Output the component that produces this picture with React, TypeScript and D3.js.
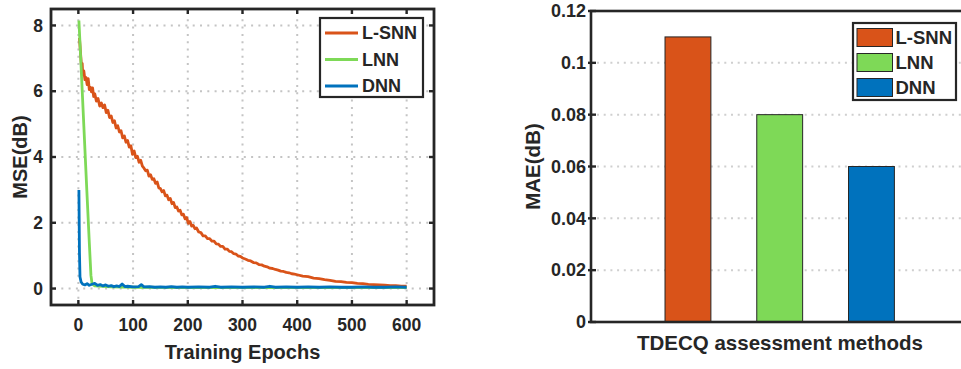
import React, { useRef, useEffect } from 'react';
import * as d3 from 'd3';

// left panel: training curves, [epoch, MSE(dB)]
const lsnnCurve: [number, number][] = [
  [2, 7.62], [4, 7.15], [6, 6.7], [7, 6.85], [8, 6.5], [10, 6.62], [12, 6.35], [14, 6.42], [16, 6.2], [18, 6.38], [20, 6.05],
  [22, 6.12], [24, 5.98], [26, 6.1], [28, 5.84], [30, 5.92], [33, 5.7], [36, 5.78], [39, 5.55], [42, 5.64], [45, 5.5],
  [48, 5.58], [51, 5.35], [54, 5.42], [57, 5.2], [60, 5.25], [63, 5.05], [66, 5.1], [69, 4.88], [72, 4.95], [75, 4.76],
  [78, 4.8], [81, 4.58], [84, 4.64], [87, 4.45], [90, 4.5], [93, 4.3], [96, 4.34], [99, 4.08], [102, 4.18], [105, 3.98],
  [108, 4.02], [111, 3.84], [114, 3.9], [117, 3.72], [120, 3.66], [123, 3.58], [126, 3.6], [129, 3.42], [132, 3.46], [135, 3.32],
  [138, 3.34], [141, 3.2], [144, 3.24], [147, 3.06], [150, 3.04], [153, 2.94], [156, 2.98], [159, 2.82], [162, 2.84], [165, 2.7],
  [168, 2.74], [171, 2.58], [174, 2.62], [177, 2.46], [180, 2.48], [183, 2.36], [186, 2.38], [189, 2.24], [192, 2.26], [195, 2.12],
  [198, 2.16], [201, 1.98], [204, 2.04], [207, 1.9], [210, 1.92], [213, 1.82], [216, 1.84], [220, 1.72], [224, 1.7], [228, 1.6],
  [232, 1.6], [236, 1.52], [240, 1.52], [244, 1.44], [248, 1.44], [252, 1.36], [256, 1.35], [260, 1.28], [264, 1.28], [268, 1.2],
  [272, 1.2], [276, 1.13], [280, 1.12], [284, 1.06], [288, 1.05], [292, 0.99], [296, 0.98], [300, 0.93], [305, 0.9], [310, 0.86],
  [315, 0.84], [320, 0.79], [325, 0.78], [330, 0.73], [335, 0.72], [340, 0.68], [345, 0.66], [350, 0.62], [355, 0.61], [360, 0.58],
  [365, 0.56], [370, 0.53], [375, 0.52], [380, 0.49], [385, 0.48], [390, 0.45], [395, 0.44], [400, 0.42], [410, 0.38], [420, 0.36],
  [430, 0.32], [440, 0.3], [450, 0.27], [460, 0.25], [470, 0.22], [480, 0.21], [490, 0.19], [500, 0.18], [510, 0.16], [520, 0.15],
  [530, 0.13], [540, 0.12], [550, 0.11], [560, 0.1], [570, 0.09], [580, 0.09], [590, 0.07], [600, 0.07]
];
const lnnCurve: [number, number][] = [
  [1, 8.15], [5, 6.75], [10, 4.95], [15, 3.15], [20, 1.4], [23, 0.4], [25, 0.15], [30, 0.08], [60, 0.05],
  [100, 0.04], [200, 0.03], [300, 0.03], [400, 0.03], [500, 0.03], [600, 0.03]
];
const dnnCurve: [number, number][] = [
  [1, 3.0], [2, 1.1], [3, 0.35], [5, 0.2], [8, 0.13], [12, 0.11], [16, 0.15], [20, 0.1], [25, 0.13], [30, 0.16],
  [35, 0.1], [40, 0.12], [45, 0.08], [50, 0.11], [55, 0.07], [60, 0.09], [65, 0.06], [70, 0.08], [75, 0.06], [80, 0.14],
  [85, 0.06], [90, 0.07], [100, 0.05], [110, 0.06], [115, 0.12], [120, 0.05], [130, 0.06], [140, 0.04], [150, 0.05], [160, 0.04],
  [170, 0.06], [180, 0.04], [190, 0.05], [200, 0.04], [220, 0.05], [240, 0.04], [250, 0.07], [260, 0.04], [280, 0.05], [300, 0.04],
  [320, 0.05], [340, 0.04], [350, 0.07], [360, 0.04], [380, 0.05], [400, 0.04], [420, 0.05], [440, 0.04], [460, 0.05], [480, 0.04],
  [500, 0.04], [520, 0.05], [540, 0.04], [560, 0.04], [580, 0.05], [600, 0.04]
];
const epochTicks = [0, 100, 200, 300, 400, 500, 600];
const mseTicks = [0, 2, 4, 6, 8];

// right panel: bars
const methods = ['L-SNN', 'LNN', 'DNN'];
const maeValues = [0.11, 0.08, 0.06];
const maeTicks = [0, 0.02, 0.04, 0.06, 0.08, 0.1, 0.12];

const colors = ['#D95319', '#7ED957', '#0072BD'];
const INK = '#262626';
const FONT = '"Liberation Sans", Arial, sans-serif';

export default function App() {
  const ref = useRef<SVGSVGElement>(null);

  useEffect(() => {
    const svg = d3.select(ref.current);
    svg.selectAll('*').remove();
    svg.attr('font-family', FONT).attr('font-weight', 'bold').attr('fill', INK);

    // ---------- left: MSE curves ----------
    const L = { x0: 51, x1: 434, y0: 9, y1: 305 };
    const x = d3.scaleLinear().domain([-50, 650]).range([L.x0, L.x1]);
    const y = d3.scaleLinear().domain([-0.5, 8.5]).range([L.y1, L.y0]);

    const gl = svg.append('g');
    // dotted grid
    gl.selectAll('.vg').data(epochTicks).join('line')
      .attr('x1', d => x(d)).attr('x2', d => x(d)).attr('y1', L.y0 + 3).attr('y2', L.y1)
      .attr('stroke', '#c4c4c4').attr('stroke-width', 2).attr('stroke-dasharray', '2 5.3');
    gl.selectAll('.hg').data(mseTicks).join('line')
      .attr('x1', L.x0 + 3).attr('x2', L.x1).attr('y1', d => y(d)).attr('y2', d => y(d))
      .attr('stroke', '#c4c4c4').attr('stroke-width', 2).attr('stroke-dasharray', '2 5.3');

    svg.append('clipPath').attr('id', 'clipL').append('rect')
      .attr('x', L.x0).attr('y', L.y0).attr('width', L.x1 - L.x0).attr('height', L.y1 - L.y0);

    const line = d3.line<[number, number]>().x(d => x(d[0])).y(d => y(d[1]));
    [lsnnCurve, lnnCurve, dnnCurve].forEach((c, i) => {
      gl.append('path').datum(c)
        .attr('clip-path', 'url(#clipL)')
        .attr('fill', 'none').attr('stroke', colors[i]).attr('stroke-width', 2.8)
        .attr('stroke-linejoin', 'round')
        .attr('d', line);
    });

    // box + mirrored inward ticks
    gl.append('rect').attr('x', L.x0).attr('y', L.y0).attr('width', L.x1 - L.x0).attr('height', L.y1 - L.y0)
      .attr('fill', 'none').attr('stroke', INK).attr('stroke-width', 2.8);
    epochTicks.forEach(t => {
      gl.append('line').attr('x1', x(t)).attr('x2', x(t)).attr('y1', L.y1).attr('y2', L.y1 - 5).attr('stroke', INK).attr('stroke-width', 2.4);
      gl.append('line').attr('x1', x(t)).attr('x2', x(t)).attr('y1', L.y0).attr('y2', L.y0 + 5).attr('stroke', INK).attr('stroke-width', 2.4);
    });
    mseTicks.forEach(t => {
      gl.append('line').attr('x1', L.x0).attr('x2', L.x0 + 5).attr('y1', y(t)).attr('y2', y(t)).attr('stroke', INK).attr('stroke-width', 2.4);
      gl.append('line').attr('x1', L.x1).attr('x2', L.x1 - 5).attr('y1', y(t)).attr('y2', y(t)).attr('stroke', INK).attr('stroke-width', 2.4);
    });
    gl.selectAll('.xt').data(epochTicks).join('text')
      .attr('x', d => x(d)).attr('y', 331).attr('text-anchor', 'middle').attr('font-size', 17.5).text(d => d);
    gl.selectAll('.yt').data(mseTicks).join('text')
      .attr('x', 43).attr('y', d => y(d)).attr('dy', '0.35em').attr('text-anchor', 'end').attr('font-size', 17.5).text(d => d);
    gl.append('text').attr('x', (L.x0 + L.x1) / 2).attr('y', 359).attr('text-anchor', 'middle')
      .attr('font-size', 20).text('Training Epochs');
    gl.append('text').attr('transform', `translate(27,${(L.y0 + L.y1) / 2}) rotate(-90)`)
      .attr('text-anchor', 'middle').attr('font-size', 20).text('MSE(dB)');

    // legend
    const lg = gl.append('g');
    lg.append('rect').attr('x', 320).attr('y', 18).attr('width', 103).attr('height', 79)
      .attr('fill', '#fff').attr('stroke', INK).attr('stroke-width', 2.2);
    methods.forEach((m, i) => {
      const ly = 33 + i * 26.5;
      lg.append('line').attr('x1', 325).attr('x2', 358).attr('y1', ly).attr('y2', ly)
        .attr('stroke', colors[i]).attr('stroke-width', 2.8);
      lg.append('text').attr('x', 362).attr('y', ly).attr('dy', '0.36em').attr('font-size', 18).text(m);
    });

    // ---------- right: MAE bars ----------
    const R = { x0: 591, x1: 975, y0: 11, y1: 322 };
    const xb = d3.scaleBand().domain(methods).range([596.2, 963.2]).paddingInner(0.5).paddingOuter(0.75);
    const yb = d3.scaleLinear().domain([0, 0.12]).range([R.y1, R.y0]);
    const gr = svg.append('g');
    gr.selectAll('.hg').data(maeTicks.slice(1, -1)).join('line')
      .attr('x1', R.x0 + 6).attr('x2', R.x1).attr('y1', d => yb(d)).attr('y2', d => yb(d))
      .attr('stroke', '#cfcfcf').attr('stroke-width', 2).attr('stroke-dasharray', '2 4.7');
    gr.selectAll('.bar').data(maeValues).join('rect')
      .attr('x', (d, i) => xb(methods[i])!).attr('width', xb.bandwidth())
      .attr('y', d => yb(d)).attr('height', d => yb(0) - yb(d))
      .attr('fill', (d, i) => colors[i]).attr('stroke', INK).attr('stroke-width', 1);
    gr.append('rect').attr('x', R.x0).attr('y', R.y0).attr('width', R.x1 - R.x0).attr('height', R.y1 - R.y0)
      .attr('fill', 'none').attr('stroke', INK).attr('stroke-width', 2.6);
    maeTicks.forEach(t => {
      gr.append('line').attr('x1', R.x0 - 3).attr('x2', R.x0 + 5).attr('y1', yb(t)).attr('y2', yb(t)).attr('stroke', INK).attr('stroke-width', 2.4);
    });
    gr.selectAll('.yt').data(maeTicks).join('text')
      .attr('x', 586).attr('y', d => yb(d)).attr('dy', '0.35em').attr('text-anchor', 'end').attr('font-size', 18)
      .text(d => d3.format('~g')(d));
    gr.append('text').attr('x', 780).attr('y', 350).attr('text-anchor', 'middle')
      .attr('font-size', 20.5).text('TDECQ assessment methods');
    gr.append('text').attr('transform', `translate(540,${(R.y0 + R.y1) / 2}) rotate(-90)`)
      .attr('text-anchor', 'middle').attr('font-size', 20.5).text('MAE(dB)');

    const rg = gr.append('g');
    rg.append('rect').attr('x', 853).attr('y', 23).attr('width', 103).attr('height', 77)
      .attr('fill', '#fff').attr('stroke', INK).attr('stroke-width', 2.2);
    methods.forEach((m, i) => {
      const ly = 37.5 + i * 25;
      rg.append('rect').attr('x', 857).attr('y', ly - 9).attr('width', 35.5).attr('height', 18)
        .attr('fill', colors[i]).attr('stroke', INK).attr('stroke-width', 1);
      rg.append('text').attr('x', 895.5).attr('y', ly).attr('dy', '0.36em').attr('font-size', 18.5).text(m);
    });
  }, []);

  return (
    <svg ref={ref} width={961} height={369}
      style={{ position: 'absolute', left: 0, top: 0, background: '#fff', display: 'block' }} />
  );
}
